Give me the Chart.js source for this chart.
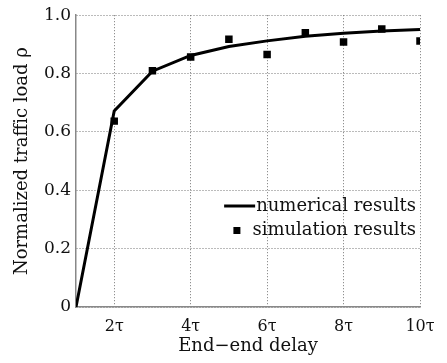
<!DOCTYPE html>
<html><head><meta charset="utf-8">
<script src="https://cdn.jsdelivr.net/npm/chart.js@4/dist/chart.umd.min.js"></script>
<style>html,body{margin:0;padding:0;background:#fff}#w{width:447px;height:363px;position:relative}</style>
</head><body><div id="w"><canvas id="c"></canvas></div>
<script>
const delays = [1, 2, 3, 4, 5, 6, 7, 8, 9, 10];
const numerical = [0, 0.672, 0.808, 0.862, 0.893, 0.912, 0.928, 0.938, 0.946, 0.951];
const simDelays = [2, 3, 4, 5, 6, 7, 8, 9, 10];
const simulation = [0.637, 0.81, 0.857, 0.918, 0.865, 0.94, 0.908, 0.953, 0.912];
const xTicks = [2, 4, 6, 8, 10];
const xTickLabels = ['2τ', '4τ', '6τ', '8τ', '10τ'];
const yTicks = [0, 0.2, 0.4, 0.6, 0.8, 1.0];
const legendLabels = ['numerical results', 'simulation results'];
const FONT = "'DejaVu Serif', 'Liberation Serif', serif";

const legendPlugin = {
  id: 'inLegend',
  afterDatasetsDraw(chart) {
    const ctx = chart.ctx;
    ctx.save();
    ctx.font = '18px ' + FONT;
    ctx.fillStyle = '#111';
    ctx.textBaseline = 'middle';
    ctx.textAlign = 'right';
    const right = 416;
    ctx.fillText(legendLabels[0], right, 206);
    ctx.fillText(legendLabels[1], right, 230);
    const w0 = ctx.measureText(legendLabels[0]).width;
    const w1 = ctx.measureText(legendLabels[1]).width;
    ctx.strokeStyle = '#000';
    ctx.lineWidth = 3;
    ctx.beginPath();
    ctx.moveTo(right - w0 - 32, 206);
    ctx.lineTo(right - w0 - 1, 206);
    ctx.stroke();
    ctx.fillStyle = '#000';
    ctx.fillRect(right - w1 - 19, 227, 7, 7);
    ctx.restore();
  }
};

new Chart(document.getElementById('c'), {
  type: 'line',
  data: {
    datasets: [
      { data: delays.map((x, i) => ({x, y: numerical[i]})), borderColor: '#000', borderWidth: 3, pointRadius: 0, tension: 0, fill: false },
      { data: simDelays.map((x, i) => ({x, y: simulation[i]})), showLine: false, pointStyle: 'rect', pointRadius: 5.3, backgroundColor: '#000', borderColor: '#000', borderWidth: 0 }
    ]
  },
  options: {
    responsive: true, maintainAspectRatio: false, animation: false,
    layout: { padding: { top: 15, right: 27, left: 0, bottom: 0 } },
    plugins: { legend: { display: false }, tooltip: { enabled: false } },
    scales: {
      x: {
        type: 'linear', min: 1, max: 10,
        afterBuildTicks(s) { s.ticks = xTicks.map(v => ({value: v})); },
        afterFit(s) { s.height = 56; },
        ticks: { color: '#111', font: { family: FONT, size: 16 }, padding: 10, maxRotation: 0,
          callback: (v) => { const i = xTicks.indexOf(v); return i >= 0 ? xTickLabels[i] : ''; } },
        grid: { color: '#777', lineWidth: 1, drawTicks: false },
        border: { display: true, color: '#888', width: 1.5, dash: [1, 2] },
        title: { display: true, text: 'End−end delay', color: '#111', font: { family: FONT, size: 18 }, padding: { top: 0, bottom: 6 } }
      },
      y: {
        type: 'linear', min: 0, max: 1,
        afterBuildTicks(s) { s.ticks = yTicks.map(v => ({value: v})); },
        afterFit(s) { s.width = 76; },
        ticks: { color: '#111', font: { family: FONT, size: 17 }, padding: 5,
          callback: (v) => v === 0 ? '0' : v.toFixed(1) },
        grid: { color: '#777', lineWidth: 1, drawTicks: false },
        border: { display: true, color: '#888', width: 1.5, dash: [1, 2] },
        title: { display: true, text: 'Normalized traffic load ρ', color: '#111', font: { family: FONT, size: 18 }, padding: { top: 12, bottom: 0 } }
      }
    }
  },
  plugins: [legendPlugin]
});
</script>
</body></html>
